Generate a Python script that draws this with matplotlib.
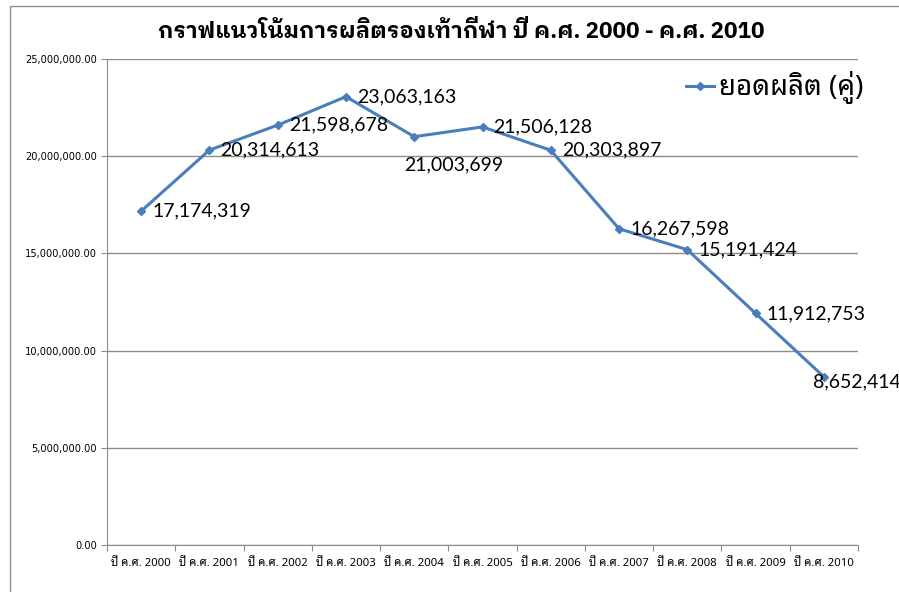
import matplotlib
matplotlib.use('Agg')
import matplotlib.pyplot as plt
from matplotlib.patches import Rectangle
from matplotlib.ticker import FuncFormatter, FixedLocator

THAI = ['Noto Sans Thai Looped', 'DejaVu Sans']
THAI_BOLD = ['IBM Plex Sans Thai Looped', 'DejaVu Sans']
plt.rcParams['font.family'] = THAI

# ข้อมูล
years = ['ปี ค.ศ. 2000', 'ปี ค.ศ. 2001', 'ปี ค.ศ. 2002', 'ปี ค.ศ. 2003',
         'ปี ค.ศ. 2004', 'ปี ค.ศ. 2005', 'ปี ค.ศ. 2006', 'ปี ค.ศ. 2007',
         'ปี ค.ศ. 2008', 'ปี ค.ศ. 2009', 'ปี ค.ศ. 2010']
production = [17174319, 20314613, 21598678, 23063163, 21003699, 21506128,
              20303897, 16267598, 15191424, 11912753, 8652414]
series_name = 'ยอดผลิต (คู่)'
title = 'กราฟแนวโน้มการผลิตรองเท้ากีฬา ปี ค.ศ. 2000 - ค.ศ. 2010'

LINE = '#4A7EBB'
GRID = '#8C8C8C'

fig = plt.figure(figsize=(8.99, 5.92), dpi=100)
# กรอบของแผนภูมิ
fig.patches.append(Rectangle((10 / 899, -0.05), 1.0, 1 - 6 / 592 + 0.05,
                             transform=fig.transFigure, fill=False,
                             edgecolor='#8C8C8C', linewidth=1.0))

ax = fig.add_axes([107 / 899, 1 - 545 / 592, 751 / 899, 486 / 592])
x = list(range(len(years)))
ax.plot(x, production, color=LINE, linewidth=2.2, marker='D', markersize=4.5,
        label=series_name, zorder=3)

ax.set_xlim(-0.5, len(years) - 0.5)
ax.set_ylim(0, 25000000)
ax.set_yticks(range(0, 25000001, 5000000))
ax.yaxis.set_major_formatter(FuncFormatter(lambda v, p: f'{v:,.2f}'))
ax.yaxis.grid(True, color=GRID, linewidth=1.0)
ax.set_axisbelow(True)

# ขีดที่ขอบหมวดหมู่, ป้ายตรงกลาง
ax.xaxis.set_major_locator(FixedLocator([i - 0.5 for i in range(len(years) + 1)]))
ax.xaxis.set_major_formatter(FuncFormatter(lambda v, p: ''))
ax.xaxis.set_minor_locator(FixedLocator(x))
ax.set_xticklabels(years, minor=True)
ax.tick_params(axis='x', which='minor', length=0, pad=9, labelsize=8.2)
ax.tick_params(axis='x', which='major', length=4, color=GRID, direction='out')
ax.tick_params(axis='y', length=4, color=GRID, labelsize=7.1, pad=3)
for lbl in ax.get_yticklabels():
    lbl.set_family('DejaVu Sans')

for s in ['top', 'right']:
    ax.spines[s].set_visible(False)
for s in ['left', 'bottom']:
    ax.spines[s].set_color(GRID)

# ป้ายข้อมูล
offsets = {4: (-7, -20), 10: (-8, -4)}
for i, v in enumerate(production):
    dx, dy = offsets.get(i, (8, 0))
    ax.annotate(f'{v:,}', (i, v), xytext=(dx, dy), textcoords='offset points',
                ha='left', va='center', fontsize=14, family='Lato',
                color='black', annotation_clip=False)

fig.legend(loc='center left', bbox_to_anchor=(686 / 899, 1 - 88 / 592),
           frameon=False, fontsize=20, handlelength=1.0, handletextpad=0.2,
           borderpad=0, borderaxespad=0)

fig.text(461 / 899, 1 - 31 / 592, title, ha='center', va='center',
         fontsize=16, fontweight='bold', family=THAI_BOLD)

fig.savefig('out.png', dpi=100)
